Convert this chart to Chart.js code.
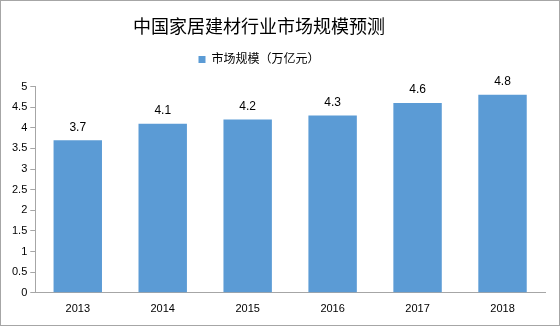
<!DOCTYPE html>
<html>
<head>
<meta charset="utf-8">
<script src="https://cdn.jsdelivr.net/npm/chart.js@4"></script>
<style>
  html, body { margin: 0; padding: 0; background: #fff; }
  #wrap { width: 560px; height: 326px; box-sizing: border-box; border: 1px solid #a6a6a6; position: relative; }
</style>
</head>
<body>
<div id="wrap"><canvas id="c"></canvas></div>
<script>
const years = ['2013', '2014', '2015', '2016', '2017', '2018'];
const marketSize = [3.7, 4.1, 4.2, 4.3, 4.6, 4.8];
const seriesName = '市场规模（万亿元）';

const fontFamily = '"Liberation Sans", "Noto Sans CJK SC", sans-serif';

// value labels above each bar
const barLabels = {
    id: 'barLabels',
    afterDatasetsDraw(chart) {
        const ctx = chart.ctx;
        const meta = chart.getDatasetMeta(0);
        ctx.save();
        ctx.font = '12px ' + fontFamily;
        ctx.fillStyle = '#000';
        ctx.textAlign = 'center';
        ctx.textBaseline = 'bottom';
        meta.data.forEach((bar, i) => {
            ctx.fillText(marketSize[i].toFixed(1), bar.x, bar.y - 7);
        });
        ctx.restore();
    }
};

// more room under the legend; title + legend sit a little left of centre
const headerTweak = {
    id: 'headerTweak',
    beforeInit(chart) {
        const fit = chart.legend.fit;
        chart.legend.fit = function () {
            fit.bind(chart.legend)();
            this.height += 11;
        };
    },
    afterLayout(chart) {
        [chart.titleBlock, chart.legend].forEach(b => {
            b.left -= 18;
            b.right -= 18;
        });
    }
};

new Chart(document.getElementById('c'), {
    type: 'bar',
    data: {
        labels: years,
        datasets: [{
            label: seriesName,
            data: marketSize,
            backgroundColor: '#5b9bd5',
            borderWidth: 0,
            categoryPercentage: 1,
            barPercentage: 0.57
        }]
    },
    options: {
        responsive: true,
        maintainAspectRatio: false,
        animation: false,
        layout: { padding: { left: 8, right: 14, top: 10, bottom: 7 } },
        plugins: {
            title: {
                display: true,
                text: '中国家居建材行业市场规模预测',
                color: '#000',
                font: { family: fontFamily, size: 18, weight: 'normal' },
                padding: { top: 6, bottom: 5 }
            },
            legend: {
                display: true,
                labels: {
                    boxWidth: 7,
                    boxHeight: 7,
                    color: '#000',
                    font: { family: fontFamily, size: 12 },
                    padding: 10
                }
            },
            tooltip: { enabled: false }
        },
        scales: {
            x: {
                grid: { display: false },
                border: { color: '#a6a6a6' },
                ticks: { color: '#000', font: { family: fontFamily, size: 11 }, padding: 2 }
            },
            y: {
                min: 0,
                max: 5,
                ticks: {
                    stepSize: 0.5,
                    color: '#000',
                    font: { family: fontFamily, size: 11 },
                    padding: 3,
                    callback: v => String(v)
                },
                grid: { drawOnChartArea: false, color: '#a6a6a6', tickLength: 5 },
                border: { color: '#a6a6a6' }
            }
        }
    },
    plugins: [barLabels, headerTweak]
});
</script>
</body>
</html>
